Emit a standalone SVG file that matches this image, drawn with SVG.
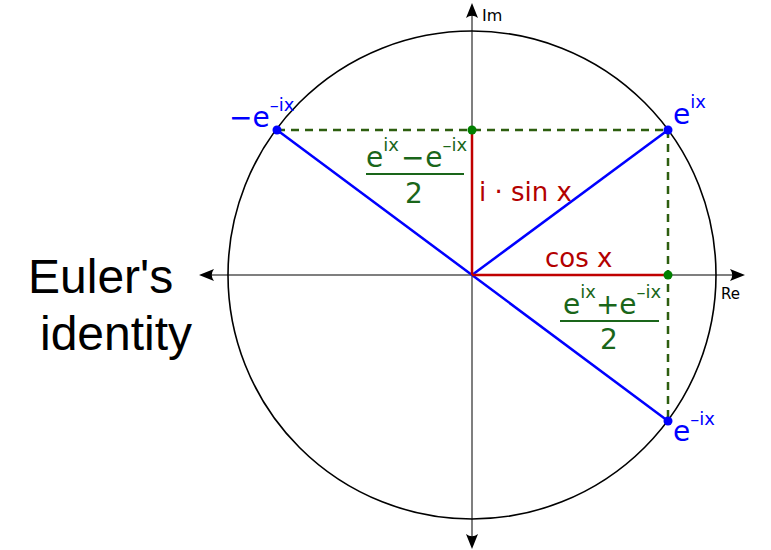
<svg xmlns="http://www.w3.org/2000/svg" width="771" height="550" viewBox="0 0 771 550">
<style>
.ax{stroke:#555;stroke-width:1.5;fill:none}
.arr{fill:#000}
.blue{stroke:#0000ff;stroke-width:2.5;fill:none}
.red{stroke:#c00000;stroke-width:2.5;fill:none}
.dash{stroke:#2d5e0f;stroke-width:2.5;stroke-dasharray:8,6;fill:none}
.bt{font-family:"DejaVu Sans",sans-serif;fill:#0000ff}
.gt{font-family:"DejaVu Sans",sans-serif;fill:#1a661a}
.rt{font-family:"DejaVu Sans",sans-serif;fill:#b30000;font-size:26px}
.kt{font-family:"DejaVu Sans",sans-serif;fill:#000}
</style>
<defs>
<path id="ah" d="M0,0 L-15,-6 Q-10.5,0 -15,6 Z"/>
</defs>
<rect width="771" height="550" fill="#fff"/>
<g id="axes">
<line class="ax" x1="205" y1="275" x2="738" y2="275"/>
<line class="ax" x1="472" y1="9" x2="472" y2="544"/>
<use href="#ah" class="arr" transform="translate(745,275)"/>
<use href="#ah" class="arr" transform="translate(199,275) rotate(180)"/>
<use href="#ah" class="arr" transform="translate(472,3) rotate(-90)"/>
<use href="#ah" class="arr" transform="translate(472,549) rotate(90)"/>
<text class="kt" x="482" y="21" font-size="16">Im</text>
<text class="kt" x="721" y="299" font-size="15">Re</text>
</g>
<g id="circle">
<circle cx="472" cy="275" r="244" fill="none" stroke="#000" stroke-width="1.6"/>
</g>
<g id="connectors">
<line class="dash" x1="277" y1="130" x2="668" y2="130"/>
<line class="dash" x1="668" y1="130" x2="668" y2="421"/>
<line class="blue" x1="472" y1="275" x2="668" y2="130"/>
<line class="blue" x1="472" y1="275" x2="277" y2="130"/>
<line class="blue" x1="472" y1="275" x2="668" y2="421"/>
<line class="red" x1="472" y1="130" x2="472" y2="275"/>
<line class="red" x1="472" y1="275" x2="668" y2="275"/>
</g>
<g id="p-eix">
<circle cx="668" cy="130" r="4.5" fill="#0000ff"/>
<text class="bt" x="673" y="124" font-size="28">e<tspan font-size="18" dy="-16">ix</tspan></text>
</g>
<g id="p-neg">
<circle cx="277" cy="130" r="4.5" fill="#0000ff"/>
<text class="bt" x="229" y="127" font-size="28">−e<tspan font-size="18" dy="-16">–ix</tspan></text>
</g>
<g id="p-emix">
<circle cx="668" cy="421" r="4.5" fill="#0000ff"/>
<text class="bt" x="673" y="441" font-size="28">e<tspan font-size="18" dy="-16">–ix</tspan></text>
</g>
<g id="p-sin">
<circle cx="472" cy="130" r="4.5" fill="#008000"/>
<text class="rt" x="479" y="201">i · sin x</text>
<text class="gt" x="366" y="167" font-size="28">e<tspan font-size="18" dy="-16">ix</tspan><tspan dy="16" dx="2">−</tspan><tspan dx="1">e</tspan><tspan font-size="18" dy="-16">–ix</tspan></text>
<line x1="366" y1="174" x2="464" y2="174" stroke="#1a661a" stroke-width="2"/>
<text class="gt" x="414" y="203" font-size="28" text-anchor="middle">2</text>
</g>
<g id="p-cos">
<circle cx="668" cy="275" r="4.5" fill="#008000"/>
<text class="rt" x="545" y="267">cos x</text>
<text class="gt" x="563" y="314" font-size="28">e<tspan font-size="18" dy="-16">ix</tspan><tspan dy="16">+e</tspan><tspan font-size="18" dy="-16">–ix</tspan></text>
<line x1="560" y1="321" x2="659" y2="321" stroke="#1a661a" stroke-width="2"/>
<text class="gt" x="609" y="349" font-size="28" text-anchor="middle">2</text>
</g>
<g id="title">
<text x="28" y="293" font-family="Liberation Sans, Arial, sans-serif" font-size="48">Euler's</text>
<text x="40" y="350" font-family="Liberation Sans, Arial, sans-serif" font-size="48">identity</text>
</g>
</svg>
